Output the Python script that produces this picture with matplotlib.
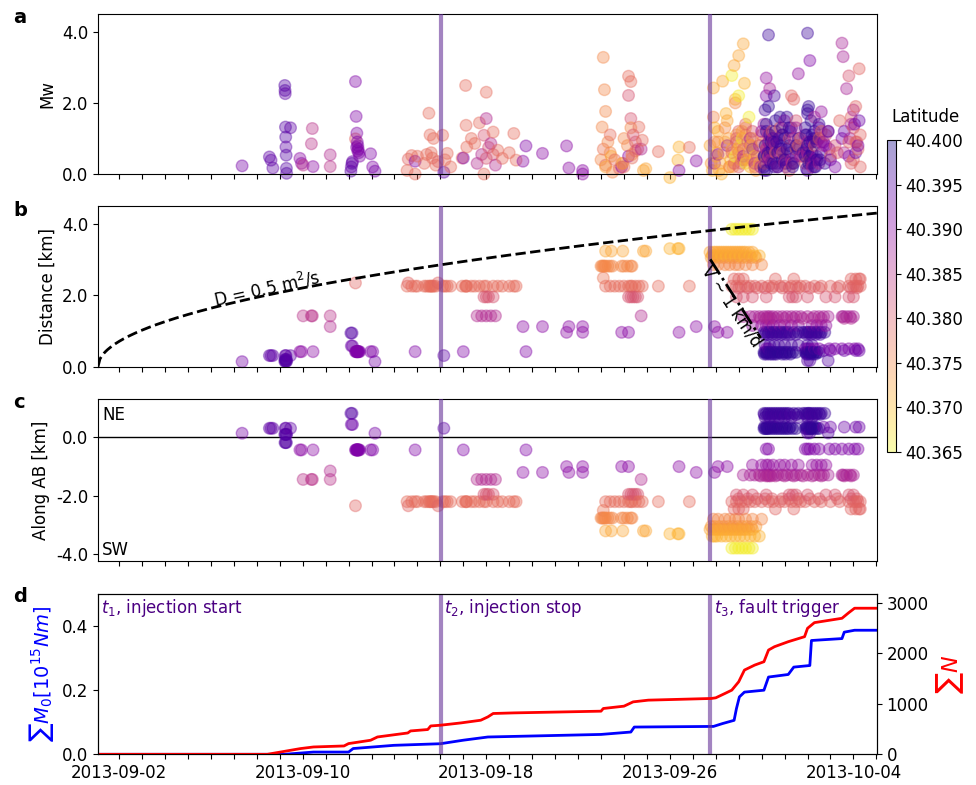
import matplotlib
matplotlib.use('Agg')
import matplotlib.pyplot as plt
import matplotlib.transforms as mtransforms
import numpy as np
from datetime import datetime, timedelta

plt.rcParams['font.size'] = 12
plt.rcParams['axes.unicode_minus'] = False

# time axis: days after 2013-09-01 00:00
start = datetime(2013, 9, 1)
t_start = 0.08      # t1, injection start
t_stop = 15.02      # t2, injection stop
t_fault = 26.76     # t3, fault trigger
t_end = 34.02

# seismicity, grouped in bands of events sharing position along AB / distance / latitude
band_t = [
  [6.36, 12.15],
  [7.55, 7.62, 7.7, 8.24, 8.27, 8.47, 15.15],
  [8.22, 8.25, 8.28, 8.3],
  [8.23, 8.26, 8.29],
  [8.88, 8.95, 9.45],
  [9.02, 9.38, 9.42, 10.2],
  [10.2],
  [11.1, 11.15],
  [11.12, 11.17],
  [11.3, 11.33, 11.36, 11.38, 11.4, 11.42, 11.45, 11.48, 11.35, 11.4, 11.96, 12.05, 13.9, 16.0, 18.73],
  [11.3, 13.6, 14.9],
  [13.55, 13.75, 13.9, 14.0, 14.3, 14.4, 14.5, 14.55, 14.6, 14.65, 14.7, 14.8, 15.1, 15.2, 15.3, 15.45,
   15.95, 16.1, 16.12, 16.15, 16.35, 16.5, 16.7, 16.9, 17.0, 17.3, 17.5, 17.7, 18.0, 18.2, 18.3],
  [22.2, 22.4, 22.6, 22.8, 23.0, 23.2, 23.3, 23.35, 23.5, 23.65, 23.8, 24.5, 25.85],
  [16.9, 17.0, 17.1, 17.3, 23.2, 23.3, 23.4, 23.5, 23.6],
  [16.6, 16.8, 17.0, 17.2, 17.4, 23.75],
  [18.6, 19.45, 20.6, 21.2, 26.15, 26.95],
  [20.5, 21.2, 22.9, 23.2, 25.4, 27.1, 27.5],
  [22.2, 22.45, 22.95, 23.85, 23.95],
  [22.0, 22.05, 22.1, 22.15, 22.2, 22.3, 22.4, 22.5, 22.9, 23.0, 23.15, 23.3, 23.35],
  [22.1],
  [25.0, 25.35, 25.4],
  [26.75, 26.9, 27.0, 27.1, 27.2, 27.3, 27.4, 27.5, 27.6, 27.7, 27.8, 27.9, 28.0, 28.1, 28.2, 28.3, 28.45, 28.6],
  [26.85, 26.95, 27.05, 27.25, 27.45, 27.65, 27.85, 28.05, 28.25, 28.5, 28.7, 28.9],
  [26.9, 27.1, 27.4, 27.6, 27.85, 28.0, 28.3, 28.6, 29.0],
  [27.7, 27.85, 28.0, 28.15, 28.3, 28.45, 28.6],
  [27.7, 27.9, 28.1, 28.3, 28.5, 28.7, 29.0, 29.3, 29.5, 29.8, 30.0, 30.3, 30.5, 30.7, 30.9, 31.3,
   31.6, 32.0, 32.4, 32.8, 33.0, 33.1, 33.2, 33.3],
  [27.8, 28.0, 28.2, 29.6, 30.4, 32.9, 33.1, 33.25, 33.3],
  [27.9, 28.2, 28.6, 29.2, 30.2, 30.35, 30.5, 31.0, 31.8, 32.2, 32.8, 33.0],
  [28.2, 28.5, 28.7, 28.9, 29.1, 29.25, 29.35, 29.5, 29.7, 29.9, 30.1, 30.3, 30.5, 30.7, 31.0, 31.3,
   31.5, 31.7, 31.9, 32.5, 32.55, 32.7, 32.85, 33.0],
  [28.6, 29.0, 29.2, 29.3, 29.5, 29.8, 30.0, 30.3, 30.6, 31.2, 31.4, 31.6, 31.8],
  [29.2, 29.3, 30.9, 31.0, 31.1, 31.3, 31.5, 31.95, 32.2, 32.5, 32.8, 33.05, 33.2],
  [29.1, 29.2, 29.3, 29.4, 29.5, 29.6, 29.7, 29.8, 29.9, 30.0, 30.1, 30.2, 30.4, 30.6, 30.8, 30.9,
   31.0, 31.05, 31.1, 31.2, 31.3, 31.4, 31.5, 31.6, 31.75],
  [29.15, 29.35, 29.55, 29.75, 30.0, 30.3, 30.6, 31.0, 31.2],
  [29.1, 29.15, 29.2, 29.25, 29.3, 29.4, 29.5, 29.6, 29.7, 29.8, 29.9, 30.0, 30.1, 30.2, 30.35, 30.5,
   30.9, 30.95, 31.0, 31.05, 31.1, 31.15, 31.2, 31.3, 31.4, 31.5],
  [31.7, 32.0, 32.6, 33.1, 33.25],
  [31.0, 31.1, 31.9],
  [26.8, 26.95, 27.15, 27.35, 27.55, 27.75, 27.95, 28.15, 28.35, 28.55, 28.75],
  [29.12, 29.28, 29.45, 29.65, 29.85, 30.05, 30.25, 30.5, 30.95, 31.15, 31.35, 31.55],
  [29.12, 29.22, 29.35, 29.45, 29.55, 29.65, 29.9, 30.05, 30.25, 30.95, 31.0, 31.12, 31.25, 31.35],
  [28.0, 28.4, 28.8, 29.15, 29.45, 29.9, 30.2, 30.6, 31.1, 31.5, 32.3, 32.9, 33.15],
  [28.95, 29.2, 29.3, 29.4, 29.6, 30.0, 30.4, 30.8, 31.2, 31.6, 32.6, 32.9],
]
band_mw = [
  [0.23, 0.08],
  [0.48, 0.39, 0.17, 2.26, 0.76, 1.3, 0.05],
  [2.49, 1.32, 0.53, 0.02],
  [2.35, 1.04, 0.16],
  [0.44, 0.3, 0.21],
  [0.25, 0.85, 1.28, 0.21],
  [0.54],
  [0.08, 0.3],
  [0.2, 0.35],
  [2.6, 1.62, 1.15, 0.9, 0.8, 0.7, 0.6, 0.5, 0.75, 0.65, 0.57, 0.2, 0.36, 0.45, 0.79],
  [0.99, 0.42, 0.35],
  [0.1, 0.52, 0.0, 0.5, 0.3, 0.55, 1.71, 1.1, 0.6, 0.45, 1.0, 0.25, 1.09, 0.4, 0.58, 0.2,
   0.45, 2.49, 1.37, 0.76, 1.0, 0.86, 1.44, 0.0, 2.3, 1.18, 0.67, 0.44, 0.6, 1.14, 0.39],
  [0.25, 1.1, 0.4, 0.15, 0.2, 2.75, 2.6, 0.45, 0.65, 1.32, 0.95, 0.63, 0.75],
  [1.09, 0.44, 0.75, 0.55, 2.21, 1.56, 1.1, 0.9, 0.7],
  [0.3, 0.55, 1.56, 0.86, 0.25, 0.7],
  [0.36, 0.58, 0.17, 0.0, 0.37, 0.3],
  [0.79, 0.1, 0.2, 0.5, 0.1, 0.55, 0.8],
  [0.2, 0.5, 0.3, 0.1, 0.15],
  [0.4, 1.32, 3.28, 2.37, 1.76, 0.9, 0.6, 0.05, 0.3, 1.0, 0.8, 1.3, 0.55],
  [0.7],
  [-0.1, 0.39, 0.76],
  [0.8, 2.42, 0.5, 1.2, 0.3, 2.61, 0.9, 1.5, 0.2, 0.7, 3.05, 1.1, 3.33, 0.4, 3.66, 1.3, 0.6, 1.0],
  [0.1, 1.3, 0.6, 0.0, 1.7, 0.4, 2.1, 0.8, 2.55, 0.2, 0.5, 0.3],
  [1.6, 0.9, 1.3, 0.2, 2.0, 0.6, 1.1, 0.4, 0.9],
  [2.77, 0.5, 2.2, 1.0, 0.3, 1.6, 0.7],
  [0.6, 1.0, 0.3, 1.4, 0.8, 0.2, 1.1, 0.5, 0.9, 1.3, 0.4, 2.2, 0.7, 1.0, 0.3, 0.8,
   1.2, 0.5, 1.5, 0.9, 0.4, 1.9, 0.7, 1.1],
  [0.3, 1.2, 0.7, 0.6, 2.1, 1.6, 0.9, 2.96, 0.2],
  [0.9, 0.4, 1.2, 0.7, 1.0, 0.3, 1.5, 0.6, 1.1, 0.8, 2.76, 1.3],
  [0.5, 1.0, 0.3, 0.8, 1.4, 0.6, 2.4, 0.9, 0.2, 1.1, 0.7, 0.4, 1.3, 0.5, 0.9, 1.6,
   0.3, 0.8, 1.2, 3.68, 3.3, 2.4, 1.0, 1.8],
  [0.7, 1.2, 2.7, 0.4, 1.0, 0.6, 1.5, 0.3, 2.82, 0.9, 0.5, 1.75, 0.8],
  [2.2, 0.9, 1.1, 0.6, 3.19, 0.4, 1.3, 0.7, 0.2, 1.0, 0.5, 1.4, 0.8],
  [0.5, 1.2, 3.91, 0.3, 0.9, 1.5, 0.2, 0.7, 1.1, 0.4, 1.6, 0.8, 0.3, 1.0, 0.6, 1.3,
   3.96, 1.9, 0.5, 1.1, 0.2, 0.9, 1.4, 0.6, 0.3],
  [1.8, 0.6, 2.2, 1.0, 0.4, 1.3, 0.7, 1.7, 0.9],
  [0.2, 0.8, 1.4, 0.5, 1.9, 0.9, 0.3, 1.2, 0.6, 1.6, 0.4, 1.0, 0.7, 1.3, 0.2, 0.8,
   0.5, 1.1, 1.8, 0.3, 0.9, 1.5, 0.6, 1.2, 0.4, 1.0],
  [0.9, 0.4, 1.2, 0.6, 1.5],
  [0.1, 0.5, 1.2],
  [0.3, 0.9, 0.1, 0.6, 1.0, 0.2, 0.7, 1.2, 0.4, 0.8, 0.1],
  [0.1, 0.6, 1.0, 0.3, 0.8, 0.2, 1.2, 0.5, 0.7, 0.3, 1.0, 0.4],
  [0.5, 0.1, 1.1, 0.7, 0.2, 0.9, 1.3, 0.3, 0.6, 0.15, 0.8, 0.4, 1.0, 0.2],
  [0.2, 0.9, 0.5, 0.3, 1.2, 0.6, 0.1, 0.8, 0.4, 1.0, 0.6, 0.3, 0.9],
  [0.2, 0.7, 1.1, 0.4, 0.8, 0.3, 1.0, 0.5, 0.2, 0.9, 0.6, 1.4],
]
band_along = [0.14, 0.31, 0.10, -0.18, -0.43, -1.44, -1.15, 0.82, 0.44, -0.43, -2.34, -2.20,
              -2.20, -1.95, -1.44, -1.20, -1.00, -3.20, -2.76, -2.50, -3.30, -3.15, -3.38, -2.80,
              -3.79, -2.20, -2.45, -1.97, -1.29, -0.95, -0.40, 0.82, 0.68, 0.30, 0.35, 0.15,
              -3.05, 0.78, 0.36, -2.10, -1.32]
band_dist = [0.14, 0.31, 0.15, 0.20, 0.42, 1.42, 1.12, 0.94, 0.58, 0.42, 2.34, 2.25,
             2.25, 1.95, 1.42, 1.12, 0.96, 3.23, 2.81, 2.48, 3.30, 3.20, 3.10, 2.85,
             3.84, 2.25, 2.45, 1.95, 1.40, 1.15, 0.50, 0.96, 0.60, 0.40, 0.45, 0.17,
             3.05, 0.90, 0.35, 2.20, 1.35]
band_lat = [40.392, 40.394, 40.395, 40.395, 40.390, 40.385, 40.386, 40.395, 40.393, 40.391, 40.379, 40.378,
            40.378, 40.381, 40.386, 40.390, 40.390, 40.372, 40.375, 40.377, 40.371, 40.372, 40.371, 40.375,
            40.366, 40.379, 40.379, 40.381, 40.387, 40.389, 40.391, 40.397, 40.396, 40.398, 40.393, 40.395,
            40.373, 40.396, 40.397, 40.380, 40.386]

# cumulative curves (panel d)
n_t = [0.08, 7.46, 8.9, 9.47, 10.8, 11.0, 11.96, 12.26, 13.58, 13.7, 14.45, 14.58, 15.0, 15.9,
       16.76, 17.07, 17.3, 18.2, 22.0, 22.1, 23.0, 23.4, 24.06, 26.8, 27.0, 27.4, 27.7, 28.0,
       28.25, 28.7, 29.1, 29.3, 29.56, 30.16, 30.87, 31.0, 31.3, 32.5, 32.8, 33.05, 34.0]
n_cum = [0, 0, 113, 145, 165, 212, 278, 343, 422, 462, 490, 561, 575, 621,
         674, 740, 807, 819, 853, 906, 952, 1037, 1071, 1104, 1117, 1203, 1269, 1434,
         1666, 1765, 1831, 2062, 2128, 2227, 2326, 2492, 2604, 2690, 2802, 2889, 2889]
m_t = [0.08, 8.2, 9.47, 11.0, 11.2, 12.97, 15.0, 16.0, 17.07, 22.0, 23.3, 23.45, 26.9, 27.3,
       27.8, 27.9, 28.03, 28.25, 29.1, 29.3, 30.16, 30.4, 31.1, 31.17, 32.5, 32.6, 33.05, 34.0]
m_cum = [0, 0, 0.007, 0.007, 0.018, 0.028, 0.033, 0.044, 0.054, 0.062, 0.0695, 0.085, 0.087, 0.096,
         0.106, 0.142, 0.179, 0.194, 0.2, 0.241, 0.249, 0.272, 0.277, 0.355, 0.361, 0.381, 0.387, 0.387]

D = 0.5          # m^2/s, diffusivity
V = 1.0          # km/d, migration speed
v_from_km = 3.0
v_days = 2.2

# flatten bands, chronological order
t_ev = np.concatenate([np.array(b, float) for b in band_t])
mw_ev = np.concatenate([np.array(b, float) for b in band_mw])
dist_ev = np.concatenate([np.full(len(b), d) for b, d in zip(band_t, band_dist)])
along_ev = np.concatenate([np.full(len(b), a) for b, a in zip(band_t, band_along)])
lat_ev = np.concatenate([np.full(len(b), l) for b, l in zip(band_t, band_lat)])
order = np.argsort(t_ev, kind='stable')
t_ev, mw_ev, dist_ev, along_ev, lat_ev = [a[order] for a in (t_ev, mw_ev, dist_ev, along_ev, lat_ev)]

fig = plt.figure(figsize=(9.76, 7.85), dpi=100)
L, W = 0.1004, 0.798
axa = fig.add_axes([L, 0.7783, W, 0.2039])
axb = fig.add_axes([L, 0.5329, W, 0.2051], sharex=axa)
axc = fig.add_axes([L, 0.2857, W, 0.2056], sharex=axa)
axd = fig.add_axes([L, 0.0391, W, 0.2042], sharex=axa)
cax = fig.add_axes([0.9088, 0.4242, 0.0092, 0.3975])

sc_kw = dict(cmap='plasma_r', vmin=40.365, vmax=40.400, alpha=0.38, s=70, clip_on=False, zorder=2)
sc = axa.scatter(t_ev, mw_ev, c=lat_ev, **sc_kw)
axb.scatter(t_ev, dist_ev, c=lat_ev, **sc_kw)
axc.scatter(t_ev, along_ev, c=lat_ev, **sc_kw)

vl_kw = dict(color='rebeccapurple', alpha=0.6, lw=3, zorder=3)
for ax in (axa, axb, axc, axd):
  ax.axvline(t_stop, **vl_kw)
  ax.axvline(t_fault, **vl_kw)

# panel a
axa.set_ylim(0, 4.5)
axa.set_yticks([0, 2, 4])
axa.set_yticklabels(['%.1f' % v for v in [0, 2, 4]])
axa.set_ylabel('Mw')

# panel b
tt = np.linspace(t_start, t_end, 400)
r_km = np.sqrt(4 * np.pi * D * (tt - t_start) * 86400) / 1000
axb.plot(tt, r_km, 'k--', lw=2, zorder=4)
tv = np.array([t_fault, t_fault + v_days])
axb.plot(tv, v_from_km - V * (tv - t_fault), 'k-.', lw=2, zorder=4)
axb.text(7.46, 2.18, 'D = 0.5 m$^2$/s', rotation=12.5, ha='center', va='center')
axb.text(27.7, 1.7, 'V ~ 1 km/d', rotation=-56, ha='center', va='center')
axb.set_ylim(0, 4.5)
axb.set_yticks([0, 2, 4])
axb.set_yticklabels(['%.1f' % v for v in [0, 2, 4]])
axb.set_ylabel('Distance [km]')

# panel c
axc.axhline(0, color='k', lw=1, zorder=1)
axc.set_ylim(-4.22, 1.3)
axc.set_yticks([-4, -2, 0])
axc.set_yticklabels(['%.1f' % v for v in [-4, -2, 0]])
axc.set_ylabel('Along AB [km]')
axc.text(0.005, 0.872, 'NE', transform=axc.transAxes, va='baseline')
axc.text(0.005, 0.035, 'SW', transform=axc.transAxes, va='baseline')

# panel d
axd.plot(m_t, m_cum, color='blue', lw=2)
axd.set_ylim(0, 0.5)
axd.set_yticks([0, 0.2, 0.4])
axd.set_yticklabels(['%.1f' % v for v in [0, 0.2, 0.4]])
axd.set_ylabel(r'$\sum M_0 [10^{15} Nm]$', color='blue', fontsize=14, labelpad=4)
axn = axd.twinx()
axn.plot(n_t, n_cum, color='red', lw=2)
axn.set_ylim(0, 3170)
axn.set_yticks([0, 1000, 2000, 3000])
axn.set_ylabel(r'$\sum N$', color='red', fontsize=16)
trans = mtransforms.blended_transform_factory(axd.transData, axd.transAxes)
for tx, lab in zip([t_start, t_stop, t_fault],
                   ['$t_1$, injection start', '$t_2$, injection stop', '$t_3$, fault trigger']):
  axd.text(tx + 0.15, 0.88, lab, transform=trans, color='indigo', va='baseline', zorder=5)

# x axis: daily ticks, date labels every 8 days
days = np.arange(1, 35)
labels = ['']*len(days)
for i, d in enumerate(days):
  if (d - 1) % 8 == 0:
    labels[i] = (datetime(2013, 9, 1) + timedelta(days=int(d))).strftime('%Y-%m-%d')
axd.set_xticks(days)
axd.set_xticklabels(labels)
axd.set_xlim(t_start, t_end)
for ax in (axa, axb, axc):
  ax.tick_params(labelbottom=False)

# colorbar
cb = fig.colorbar(sc, cax=cax)
cb.set_ticks(np.arange(40.365, 40.4001, 0.005))
cb.set_ticklabels(['%.3f' % v for v in np.arange(40.365, 40.4001, 0.005)])
fig.text(0.913, 0.8395, 'Latitude', ha='left', va='bottom')

for lab, y in zip('abcd', [0.9707, 0.7248, 0.4803, 0.2331]):
  fig.text(0.0133, y, lab, fontsize=14, fontweight='bold', va='baseline')

fig.savefig('out.png', dpi=100)
